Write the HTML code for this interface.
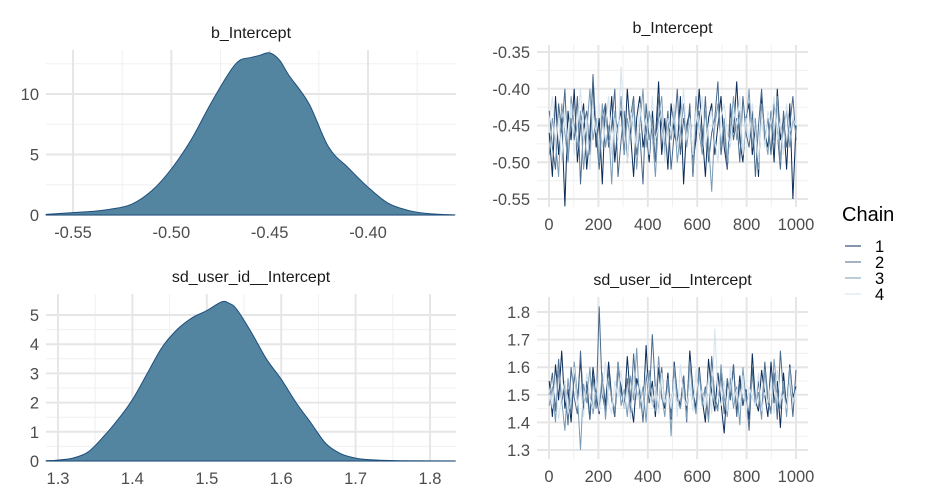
<!DOCTYPE html>
<html><head><meta charset="utf-8">
<style>
html,body{margin:0;padding:0;background:#fff;}
svg{display:block;font-family:"Liberation Sans",sans-serif;}
</style></head>
<body>
<svg id="chart" width="936" height="504" viewBox="0 0 936 504">
<g id="layer"></g>
<g>
<text x="842" y="221" font-size="20" fill="#000">Chain</text>
<g id="legend"></g>
</g>
</svg>
<script>
const ns="http://www.w3.org/2000/svg";
// density data
const densX1=[-0.5637,-0.55,-0.54,-0.53,-0.52,-0.51,-0.50,-0.49,-0.48,-0.47,-0.465,-0.46,-0.455,-0.45,-0.445,-0.44,-0.43,-0.42,-0.41,-0.40,-0.39,-0.38,-0.37,-0.36,-0.356];
const densY1=[0.05,0.2,0.3,0.5,0.9,2.0,3.8,6.2,9.2,11.9,12.8,13.0,13.2,13.4,12.8,11.5,9.2,5.6,3.9,2.3,1.0,0.4,0.12,0.03,0.01];
const densX2=[1.284,1.30,1.32,1.34,1.36,1.38,1.40,1.42,1.44,1.46,1.48,1.50,1.52,1.53,1.54,1.56,1.58,1.60,1.62,1.64,1.66,1.68,1.70,1.72,1.76,1.834];
const densY2=[0.01,0.03,0.1,0.3,0.8,1.4,2.1,3.0,3.9,4.5,4.9,5.15,5.45,5.4,5.2,4.4,3.5,2.8,2.0,1.3,0.6,0.25,0.1,0.04,0.01,0];
const ticks1X=[-0.55,-0.50,-0.45,-0.40];const ticks1Lab=["-0.55","-0.50","-0.45","-0.40"];
const ticks1Y=[0,5,10];
const ticks2X=[1.3,1.4,1.5,1.6,1.7,1.8];const ticks2Lab=["1.3","1.4","1.5","1.6","1.7","1.8"];
const ticks2Y=[0,1,2,3,4,5];
const traceTicksX=[0,200,400,600,800,1000];
const trace1Ticks=[-0.35,-0.40,-0.45,-0.50,-0.55];const trace1Lab=["-0.35","-0.40","-0.45","-0.50","-0.55"];
const trace2Ticks=[1.3,1.4,1.5,1.6,1.7,1.8];const trace2Lab=["1.3","1.4","1.5","1.6","1.7","1.8"];
// trace data (per chain)
const t1c1=[-0.46,-0.52,-0.41,-0.49,-0.44,-0.56,-0.43,-0.47,-0.40,-0.50,-0.45,-0.42,-0.51,-0.46,-0.39,-0.48,-0.44,-0.53,-0.42,-0.47,-0.41,-0.50,-0.45,-0.43,-0.49,-0.40,-0.46,-0.52,-0.44,-0.41,-0.48,-0.45,-0.50,-0.43,-0.47,-0.39,-0.49,-0.44,-0.51,-0.42,-0.46,-0.48,-0.41,-0.53,-0.45,-0.43,-0.50,-0.47,-0.40,-0.46,-0.52,-0.44,-0.42,-0.49,-0.45,-0.41,-0.48,-0.51,-0.43,-0.46,-0.39,-0.47,-0.50,-0.44,-0.42,-0.49,-0.45,-0.52,-0.41,-0.46,-0.48,-0.43,-0.50,-0.40,-0.47,-0.44,-0.51,-0.42,-0.55,-0.45];
const t1c2=[-0.43,-0.48,-0.51,-0.42,-0.46,-0.40,-0.50,-0.44,-0.47,-0.41,-0.53,-0.45,-0.43,-0.49,-0.38,-0.46,-0.51,-0.44,-0.42,-0.48,-0.45,-0.40,-0.52,-0.47,-0.43,-0.50,-0.44,-0.41,-0.49,-0.46,-0.53,-0.42,-0.47,-0.44,-0.50,-0.41,-0.45,-0.48,-0.43,-0.51,-0.46,-0.40,-0.49,-0.44,-0.47,-0.42,-0.52,-0.45,-0.43,-0.48,-0.41,-0.50,-0.46,-0.44,-0.39,-0.49,-0.45,-0.51,-0.42,-0.47,-0.44,-0.50,-0.41,-0.46,-0.48,-0.43,-0.52,-0.45,-0.40,-0.47,-0.44,-0.49,-0.42,-0.46,-0.51,-0.43,-0.48,-0.45,-0.41,-0.47];
const t1c3=[-0.49,-0.44,-0.47,-0.52,-0.42,-0.46,-0.50,-0.41,-0.45,-0.48,-0.43,-0.51,-0.46,-0.40,-0.47,-0.44,-0.50,-0.42,-0.48,-0.45,-0.53,-0.43,-0.46,-0.41,-0.49,-0.44,-0.47,-0.42,-0.51,-0.45,-0.40,-0.48,-0.43,-0.46,-0.52,-0.44,-0.41,-0.49,-0.45,-0.47,-0.43,-0.50,-0.46,-0.42,-0.48,-0.44,-0.51,-0.41,-0.46,-0.49,-0.43,-0.47,-0.54,-0.45,-0.42,-0.48,-0.44,-0.50,-0.46,-0.41,-0.47,-0.43,-0.49,-0.45,-0.40,-0.48,-0.44,-0.51,-0.42,-0.46,-0.49,-0.43,-0.47,-0.41,-0.50,-0.45,-0.43,-0.48,-0.44,-0.46];
const t1c4=[-0.45,-0.41,-0.48,-0.44,-0.50,-0.43,-0.47,-0.42,-0.49,-0.45,-0.40,-0.47,-0.44,-0.51,-0.43,-0.46,-0.42,-0.48,-0.45,-0.41,-0.49,-0.44,-0.47,-0.37,-0.46,-0.50,-0.43,-0.45,-0.48,-0.42,-0.46,-0.44,-0.49,-0.41,-0.47,-0.45,-0.43,-0.50,-0.44,-0.46,-0.42,-0.48,-0.45,-0.40,-0.47,-0.44,-0.49,-0.43,-0.46,-0.41,-0.48,-0.45,-0.43,-0.47,-0.50,-0.44,-0.42,-0.46,-0.48,-0.43,-0.45,-0.41,-0.49,-0.44,-0.47,-0.42,-0.46,-0.50,-0.44,-0.48,-0.43,-0.45,-0.41,-0.47,-0.44,-0.49,-0.42,-0.46,-0.44,-0.45];
const t2c1=[1.55,1.42,1.61,1.48,1.66,1.45,1.52,1.40,1.58,1.47,1.63,1.44,1.55,1.41,1.60,1.50,1.43,1.57,1.46,1.62,1.49,1.42,1.59,1.53,1.45,1.64,1.48,1.40,1.56,1.51,1.44,1.68,1.47,1.55,1.42,1.60,1.49,1.45,1.58,1.41,1.62,1.50,1.46,1.57,1.43,1.66,1.52,1.45,1.60,1.48,1.40,1.63,1.51,1.44,1.58,1.47,1.36,1.55,1.49,1.61,1.43,1.57,1.46,1.52,1.41,1.65,1.48,1.44,1.59,1.50,1.42,1.62,1.47,1.55,1.38,1.58,1.45,1.61,1.49,1.53];
const t2c2=[1.50,1.58,1.44,1.63,1.47,1.55,1.39,1.60,1.49,1.43,1.66,1.46,1.52,1.41,1.57,1.45,1.82,1.50,1.44,1.59,1.48,1.42,1.62,1.51,1.46,1.56,1.43,1.65,1.49,1.53,1.40,1.58,1.47,1.72,1.52,1.44,1.60,1.46,1.55,1.42,1.61,1.48,1.45,1.57,1.40,1.63,1.50,1.44,1.59,1.47,1.53,1.41,1.64,1.49,1.45,1.58,1.43,1.56,1.48,1.61,1.42,1.54,1.47,1.51,1.37,1.60,1.46,1.55,1.43,1.62,1.49,1.44,1.58,1.41,1.66,1.50,1.46,1.56,1.42,1.59];
const t2c3=[1.46,1.53,1.40,1.59,1.48,1.37,1.56,1.44,1.62,1.50,1.30,1.54,1.47,1.60,1.43,1.51,1.45,1.58,1.41,1.55,1.49,1.44,1.61,1.46,1.52,1.42,1.57,1.48,1.67,1.45,1.53,1.40,1.59,1.47,1.44,1.64,1.50,1.42,1.56,1.35,1.60,1.48,1.45,1.54,1.41,1.62,1.49,1.43,1.58,1.46,1.52,1.40,1.57,1.47,1.44,1.61,1.49,1.42,1.56,1.45,1.53,1.39,1.60,1.48,1.44,1.57,1.46,1.51,1.41,1.59,1.47,1.43,1.63,1.50,1.45,1.55,1.42,1.60,1.47,1.52];
const t2c4=[1.52,1.45,1.57,1.41,1.50,1.55,1.43,1.48,1.60,1.46,1.53,1.42,1.58,1.49,1.45,1.56,1.44,1.51,1.62,1.47,1.43,1.55,1.49,1.59,1.45,1.52,1.41,1.57,1.48,1.54,1.44,1.60,1.50,1.46,1.53,1.43,1.58,1.47,1.51,1.45,1.56,1.42,1.61,1.49,1.46,1.54,1.44,1.59,1.48,1.52,1.45,1.57,1.43,1.74,1.50,1.46,1.55,1.44,1.60,1.48,1.52,1.45,1.57,1.42,1.53,1.49,1.46,1.58,1.44,1.51,1.47,1.55,1.43,1.59,1.48,1.50,1.45,1.56,1.47,1.52];
const chainColors=["#0b2d5a","#4a6a8c","#7a9bb5","#d4e3ee"];

const layer=document.getElementById('layer');
function mk(tag,attrs,parent){const e=document.createElementNS(ns,tag);for(const k in attrs)e.setAttribute(k,attrs[k]);(parent||layer).appendChild(e);return e;}
function lin(d0,d1,r0,r1){return v=>r0+(v-d0)/(d1-d0)*(r1-r0);}

function panel(p){
  const g=mk('g',{});
  
  
  p.minorX.forEach(v=>{const l=mk('line',{x1:p.sx(v),x2:p.sx(v),y1:p.top,y2:p.bot,stroke:'#f0f0f0','stroke-width':1},g);});
  p.minorY.forEach(v=>{const l=mk('line',{x1:p.left,x2:p.right,y1:p.sy(v),y2:p.sy(v),stroke:'#f0f0f0','stroke-width':1},g);});
  p.xt.forEach((v,i)=>{const l=mk('line',{x1:p.sx(v),x2:p.sx(v),y1:p.top,y2:p.bot,stroke:'#e6e6e6','stroke-width':2},g);
    const t=mk('text',{x:p.sx(v),y:p.bot+23,'text-anchor':'middle','font-size':16.5,fill:'#4d4d4d'},g);t.textContent=p.xl[i];});
  p.yt.forEach((v,i)=>{const l=mk('line',{x1:p.left,x2:p.right,y1:p.sy(v),y2:p.sy(v),stroke:'#e6e6e6','stroke-width':2},g);
    const t=mk('text',{x:p.left-7,y:p.sy(v)+6,'text-anchor':'end','font-size':16.5,fill:'#4d4d4d'},g);t.textContent=p.yl[i];});
  const tt=mk('text',{x:(p.left+p.right)/2,y:p.top-12,'text-anchor':'middle','font-size':16,fill:'#1a1a1a'},g);tt.textContent=p.title;
  return g;
}
function density(p,xs,ys){
  const g=panel(p);
  const pts=xs.map((x,i)=>[p.sx(x),p.sy(ys[i])]);
  let d='M'+pts[0][0]+','+p.sy(0)+' L'+pts[0][0].toFixed(1)+','+pts[0][1].toFixed(1);
  for(let i=0;i<pts.length-1;i++){
    const p0=pts[Math.max(0,i-1)],p1=pts[i],p2=pts[i+1],p3=pts[Math.min(pts.length-1,i+2)];
    const c1=[p1[0]+(p2[0]-p0[0])/6,p1[1]+(p2[1]-p0[1])/6],c2=[p2[0]-(p3[0]-p1[0])/6,p2[1]-(p3[1]-p1[1])/6];
    d+=' C'+c1[0].toFixed(1)+','+c1[1].toFixed(1)+' '+c2[0].toFixed(1)+','+c2[1].toFixed(1)+' '+p2[0].toFixed(1)+','+p2[1].toFixed(1);
  }
  d+=' L'+pts[pts.length-1][0]+','+p.sy(0)+'Z';
  const a=mk('path',{d:d,fill:'#5385a1',stroke:'#1f4e7d','stroke-width':1,'stroke-linejoin':'round'},g);
  
  
}
function trace(p,chains){
  const g=panel(p);
  chains.forEach((c,ci)=>{
    const n=c.length;
    let d='';
    c.forEach((v,i)=>{const it=1+i*(999/(n-1));d+=(i?' L':'M')+p.sx(it).toFixed(1)+','+p.sy(v).toFixed(1);});
    const pl=mk('path',{d:d,fill:'none',stroke:chainColors[ci],'stroke-width':1},g);
    
    
  });
}
const fmt=v=>String(v);
density({name:'density-panel-b-intercept',title:'b_Intercept',left:46,right:456,top:50,bot:215,
  sx:lin(-0.55,-0.40,73,368),sy:lin(0,10,215,94),xt:ticks1X,xl:ticks1Lab,yt:ticks1Y,yl:ticks1Y.map(fmt),
  minorX:[-0.525,-0.475,-0.425,-0.375],minorY:[2.5,7.5,12.5]},densX1,densY1);
density({name:'density-panel-sd-user-id',title:'sd_user_id__Intercept',left:46,right:456,top:294,bot:461,
  sx:lin(1.3,1.8,58,430),sy:lin(0,5,461,315),xt:ticks2X,xl:ticks2Lab,yt:ticks2Y,yl:ticks2Y.map(fmt),
  minorX:[1.35,1.45,1.55,1.65,1.75],minorY:[0.5,1.5,2.5,3.5,4.5]},densX2,densY2);
trace({name:'trace-panel-b-intercept',title:'b_Intercept',left:537,right:808,top:45,bot:207,
  sx:lin(0,1000,549,796),sy:lin(-0.35,-0.55,52,199),xt:traceTicksX,xl:traceTicksX.map(fmt),yt:trace1Ticks,yl:trace1Lab,
  minorX:[100,300,500,700,900],minorY:[-0.375,-0.425,-0.475,-0.525]},[t1c1,t1c2,t1c3,t1c4]);
trace({name:'trace-panel-sd-user-id',title:'sd_user_id__Intercept',left:537,right:808,top:297,bot:459,
  sx:lin(0,1000,549,796),sy:lin(1.3,1.8,450,312),xt:traceTicksX,xl:traceTicksX.map(fmt),yt:trace2Ticks,yl:trace2Lab,
  minorX:[100,300,500,700,900],minorY:[1.35,1.45,1.55,1.65,1.75]},[t2c1,t2c2,t2c3,t2c4]);

const lg=document.getElementById('legend');
chainColors.forEach((c,i)=>{
  const y=246+i*16;
  const e=mk('g',{},lg);
  
  
  mk('line',{x1:845,x2:861,y1:y,y2:y,stroke:c,'stroke-width':1},e);
  const t=mk('text',{x:875,y:y+6,'font-size':16.5,fill:'#000'},e);
  t.textContent=String(i+1);
});
</script>
</body></html>
